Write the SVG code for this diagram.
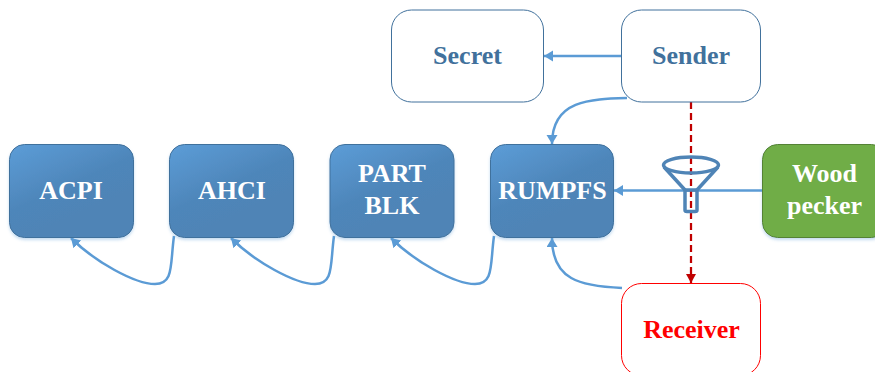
<svg xmlns="http://www.w3.org/2000/svg" width="875" height="372" viewBox="0 0 875 372">
<style>
text{font-family:"Liberation Serif","Times New Roman",serif;font-weight:bold;font-size:26px;text-anchor:middle}
.w{fill:#fff}
.b{fill:#41719c}
.box{fill:url(#g);stroke:#41719c;stroke-width:1;filter:url(#s)}
.out{fill:#fff;stroke:#41719c;stroke-width:1}
.c{fill:none;stroke:#5b9bd5;stroke-width:2.5}
.a{marker-end:url(#ah)}
</style>
<defs>
<linearGradient id="g" x1="0.1" y1="0" x2="0.55" y2="0.75">
<stop offset="0" stop-color="#5b9bd5"/><stop offset="0.65" stop-color="#4e86ba"/><stop offset="1" stop-color="#4f84b6"/>
</linearGradient>
<filter id="s" x="-10%" y="-10%" width="120%" height="125%"><feDropShadow dx="0" dy="2" stdDeviation="1.5" flood-color="#5b9bd5" flood-opacity="0.35"/></filter>
<marker id="ah" markerUnits="userSpaceOnUse" markerWidth="11" markerHeight="12" refX="9" refY="5.500" orient="auto"><path d="M0,0L9,5.500L0,11Z" fill="#5b9bd5"/></marker>
<marker id="ar" markerUnits="userSpaceOnUse" markerWidth="11" markerHeight="12" refX="9" refY="5" orient="auto"><path d="M0,0L9,5L0,10Z" fill="#c00000"/></marker>
</defs>
<g id="connectors">
<path class="c a" d="M622 56H544"/>
<path class="c a" d="M627 98C590 99 552 100 552 144"/>
<path class="c a" d="M763 190.500H614"/>
<path class="c a" d="M622 288C580 286 552 280 552 238"/>
<path class="c a" d="M174 236C170 265 174 284 155 284C135 284 95 262 71 238"/>
<path class="c a" d="M334 236C330 265 334 284 315 284C295 284 255 262 231 238"/>
<path class="c a" d="M494 236C490 265 494 284 475 284C455 284 415 262 391 238"/>
<path d="M691 102V283" fill="none" stroke="#c00000" stroke-width="2.250" stroke-dasharray="7 4" marker-end="url(#ar)"/>
</g>
<g id="funnel" fill="none" stroke="#4f84b6" stroke-width="3.500" stroke-linejoin="round">
<ellipse cx="691" cy="165" rx="27.500" ry="8"/>
<path d="M664 167L685 190V210Q685 211.500 687 211.500H695Q697 211.500 697 210V190L718 167"/>
<path d="M685 190H697"/>
</g>
<g id="acpi"><rect class="box" x="9.500" y="144.500" width="124" height="93" rx="15"/><text class="w" x="71" y="199">ACPI</text></g>
<g id="ahci"><rect class="box" x="169.500" y="144.500" width="124" height="93" rx="15"/><text class="w" x="232" y="199">AHCI</text></g>
<g id="partblk"><rect class="box" x="330" y="144.500" width="124" height="93" rx="15"/><text class="w" x="392" y="182">PART</text><text class="w" x="392" y="214">BLK</text></g>
<g id="rumpfs"><rect class="box" x="490.500" y="144.500" width="123" height="93" rx="15"/><text class="w" x="552.500" y="199">RUMPFS</text></g>
<g id="woodpecker"><rect x="762.500" y="144.500" width="124" height="93" rx="15" fill="#70ad47" stroke="#548235" filter="url(#s)"/><text class="w" x="824.500" y="182">Wood</text><text class="w" x="824.500" y="214">pecker</text></g>
<g id="secret"><rect class="out" x="391.500" y="10" width="152" height="92" rx="20"/><text class="b" x="467.500" y="64">Secret</text></g>
<g id="sender"><rect class="out" x="621.500" y="10" width="139" height="92" rx="20"/><text class="b" x="691" y="64">Sender</text></g>
<g id="receiver"><rect x="621.500" y="283.500" width="139" height="92" rx="20" fill="#fff" stroke="#f00"/><text x="691.500" y="338" fill="#f00">Receiver</text></g>
</svg>
